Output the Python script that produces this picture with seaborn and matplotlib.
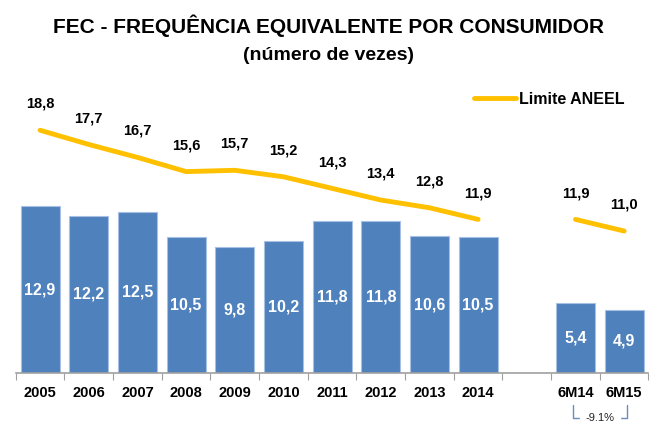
import numpy as np
import pandas as pd
import seaborn as sns
import matplotlib.pyplot as plt
import matplotlib.transforms as mtransforms

categories = ["2005", "2006", "2007", "2008", "2009", "2010", "2011", "2012", "2013", "2014", " ", "6M14", "6M15"]
bar_cats = ["2005", "2006", "2007", "2008", "2009", "2010", "2011", "2012", "2013", "2014", "6M14", "6M15"]
fec_values = [12.9, 12.2, 12.5, 10.5, 9.8, 10.2, 11.8, 11.8, 10.6, 10.5, 5.4, 4.9]
limit_years = ["2005", "2006", "2007", "2008", "2009", "2010", "2011", "2012", "2013", "2014"]
limit_years_values = [18.8, 17.7, 16.7, 15.6, 15.7, 15.2, 14.3, 13.4, 12.8, 11.9]
limit_half = ["6M14", "6M15"]
limit_half_values = [11.9, 11.0]
variation_label = "-9.1%"

bar_color = "#4F81BD"
line_color = "#FFC000"

sns.set_style("white")
plt.rcParams['font.family'] = ['Liberation Sans', 'DejaVu Sans']
plt.rcParams['text.color'] = 'black'
plt.rcParams['xtick.color'] = 'black'

fig = plt.figure(figsize=(6.57, 4.25), dpi=100)
ax = fig.add_axes([0.024, 0.122, 0.963, 0.76])

df = pd.DataFrame({"cat": bar_cats, "fec": fec_values})
sns.barplot(data=df, x="cat", y="fec", order=categories, color=bar_color,
            saturation=1, width=0.8, edgecolor="#A7C0E3", linewidth=0.8, ax=ax)

# line segments (limit), drawn on category positions
pos = {c: i for i, c in enumerate(categories)}
seg1 = pd.DataFrame({"x": [pos[c] for c in limit_years], "y": limit_years_values})
seg2 = pd.DataFrame({"x": [pos[c] for c in limit_half], "y": limit_half_values})
sns.lineplot(data=seg1, x="x", y="y", color=line_color, lw=3.5, ax=ax,
             label="Limite ANEEL", solid_capstyle="round")
sns.lineplot(data=seg2, x="x", y="y", color=line_color, lw=3.5, ax=ax,
             solid_capstyle="round")

# labels inside bars
for c, v in zip(bar_cats, fec_values):
    ax.text(pos[c], v / 2, f"{v:.1f}".replace(".", ","), color="white",
            ha="center", va="center", fontsize=11.5, fontweight="bold")

# labels above line
for cats, vals in [(limit_years, limit_years_values), (limit_half, limit_half_values)]:
    for c, v in zip(cats, vals):
        ax.annotate(f"{v:.1f}".replace(".", ","), (pos[c], v), xytext=(0, 19),
                    textcoords="offset points", ha="center", va="center",
                    fontsize=10.5, fontweight="bold", color="black")

ax.set_xlim(-0.5, len(categories) - 0.5)
ax.set_ylim(0, 25)
ax.set_xlabel("")
ax.set_ylabel("")
ax.set_yticks([])

ax.set_xticks(np.arange(-0.5, len(categories)), minor=False)
ax.set_xticklabels([])
ax.set_xticks(np.arange(len(categories)), minor=True)
ax.set_xticklabels(categories, minor=True, fontsize=10.5, fontweight="bold")
ax.tick_params(axis="x", which="major", length=5, color="#A0A0A0", direction="out", bottom=True)
ax.tick_params(axis="x", which="minor", length=0, pad=9)

for s in ["top", "right", "left"]:
    ax.spines[s].set_visible(False)
ax.spines["bottom"].set_color("#A0A0A0")
ax.spines["bottom"].set_linewidth(1.2)

leg = ax.legend(loc="upper right", bbox_to_anchor=(0.985, 0.915), frameon=False,
                handlelength=2.6, handletextpad=0.2, fontsize=11.5)
for t in leg.get_texts():
    t.set_fontweight("bold")

# variation bracket
trans = mtransforms.blended_transform_factory(ax.transData, ax.transAxes)
x1, x2 = pos["6M14"] - 0.05, pos["6M15"] + 0.05
ax.plot([x1, x1, x2, x2], [-0.1, -0.14, -0.14, -0.1], color="#6A8CC0", lw=1,
        transform=trans, clip_on=False)
ax.text((x1 + x2) / 2, -0.14, variation_label, transform=trans, ha="center", va="center",
        fontsize=8, color="#222222", backgroundcolor="white", clip_on=False)

fig.text(0.5, 0.94, "FEC - FREQUÊNCIA EQUIVALENTE POR CONSUMIDOR", ha="center", va="center",
         fontsize=15, fontweight="bold")
fig.text(0.5, 0.87, "(número de vezes)", ha="center", va="center",
         fontsize=14, fontweight="bold")

fig.savefig("out.png", dpi=100)
